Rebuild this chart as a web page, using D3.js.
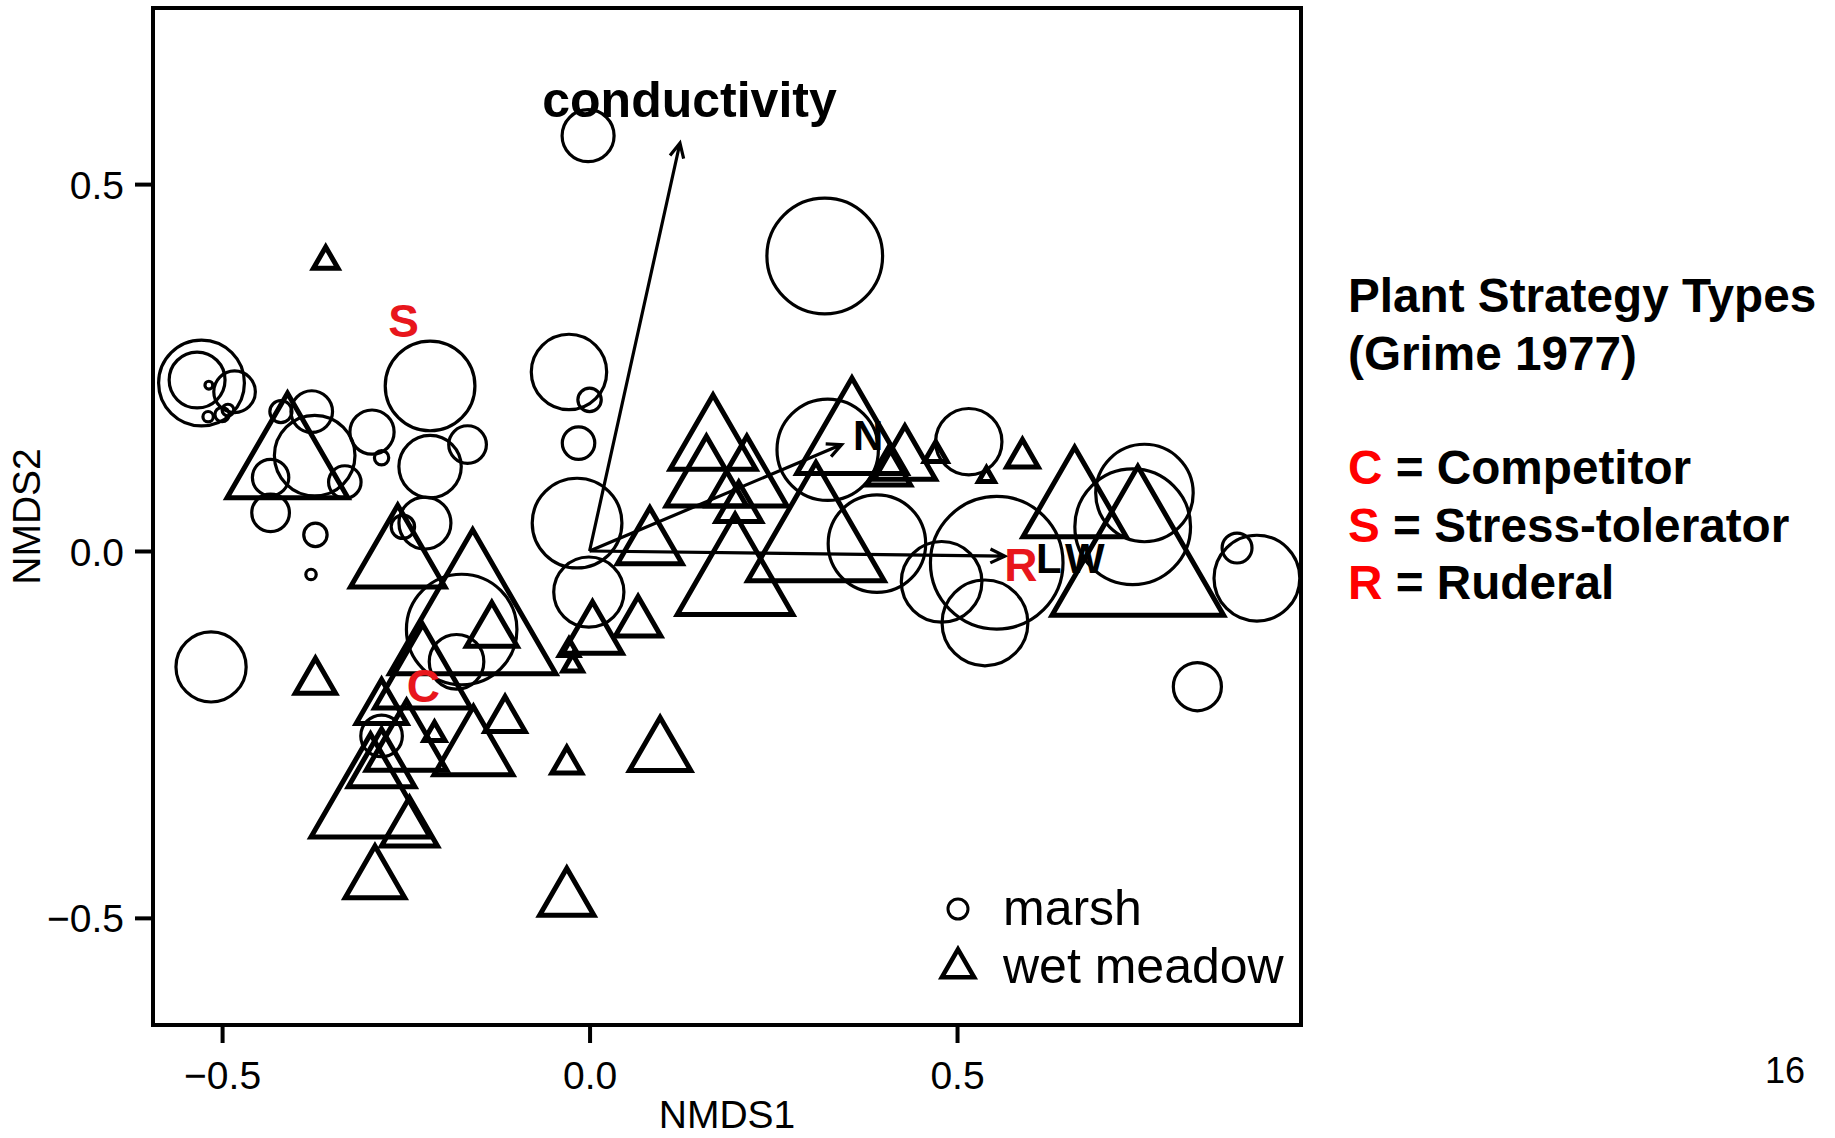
<!DOCTYPE html>
<html>
<head>
<meta charset="utf-8">
<script src="https://cdn.jsdelivr.net/npm/d3@7"></script>
<style>
  body { margin: 0; background: #fff; }
  text { font-family: "Liberation Sans", Arial, sans-serif; }
</style>
</head>
<body>
<div id="chart"></div>
<script>
// site scores, marsh plots (NMDS1, NMDS2, relative symbol size)
var marshX = [-0.528, -0.534, -0.483, -0.518, -0.519, -0.500, -0.492, -0.378, -0.374, -0.434, -0.420,
    -0.333, -0.296, -0.283, -0.217, -0.166, -0.217, -0.434, -0.373, -0.379, -0.224, -0.254, -0.515,
    -0.174, -0.181, -0.283, -0.002, -0.028, 0.000, -0.015, -0.017, -0.001, 0.320, 0.324, 0.391,
    0.516, 0.479, 0.554, 0.538, 0.755, 0.739, 0.908, 0.881, 0.827];
var marshY = [0.229, 0.233, 0.217, 0.226, 0.183, 0.186, 0.192, 0.190, 0.130, 0.100, 0.190,
    0.094, 0.162, 0.127, 0.225, 0.145, 0.115, 0.052, 0.022, -0.032, 0.038, 0.033, -0.158,
    -0.107, -0.151, -0.252, 0.566, 0.244, 0.206, 0.147, 0.038, -0.056, 0.402, 0.138, 0.010,
    0.149, -0.042, -0.016, -0.098, 0.079, 0.033, -0.037, 0.004, -0.185];
var marshSize = [6.6, 4.3, 3.2, 0.6, 0.8, 1.1, 0.9, 3.2, 6.2, 2.8, 1.7,
    2.5, 3.4, 1.1, 6.9, 2.9, 4.8, 2.9, 1.8, 0.8, 4.0, 1.8, 5.4,
    8.5, 4.2, 3.2, 4.0, 5.8, 1.8, 2.5, 6.9, 5.4, 8.9, 7.8, 7.5,
    5.1, 6.2, 10.2, 6.6, 7.5, 8.9, 6.6, 2.3, 3.7];

// site scores, wet meadow plots
var meadowX = [-0.359, -0.411, -0.261, -0.159, -0.133, -0.373, -0.283, -0.115, -0.211, -0.158, -0.249,
    -0.283, -0.298, -0.245, -0.292, -0.028, -0.023, -0.031, 0.096, -0.031, 0.004, 0.066, 0.082,
    0.168, 0.159, 0.203, 0.198, 0.308, 0.357, 0.429, 0.589, 0.540, 0.660, 0.746, -0.227, 0.214,
    0.407, 0.471];
var meadowY = [0.395, 0.120, -0.012, -0.102, -0.110, -0.178, -0.215, -0.230, -0.250, -0.274, -0.267,
    -0.295, -0.343, -0.380, -0.449, -0.135, -0.156, -0.291, -0.275, -0.475, -0.116, -0.098, 0.008,
    0.145, 0.093, 0.058, -0.041, 0.013, 0.149, 0.122, 0.127, 0.101, 0.060, -0.020, -0.176, 0.093,
    0.107, 0.131];
var meadowSize = [1.4, 6.9, 5.4, 9.5, 2.9, 2.3, 2.9, 2.3, 1.2, 4.5, 4.6,
    3.8, 6.8, 3.2, 3.4, 1.1, 1.1, 1.7, 3.5, 3.1, 3.4, 2.6, 3.7,
    4.9, 4.6, 2.6, 6.6, 7.8, 6.3, 3.5, 1.8, 0.9, 5.9, 9.8, 5.5, 4.6,
    2.5, 1.3];

// fitted environmental vectors
var vecNames = ["conductivity", "N", "L"];
var vecX = [0.123, 0.343, 0.565];
var vecY = [0.556, 0.145, -0.007];
var labNames = ["conductivity", "N", "L", "W"];
var labX = [0.136, 0.379, 0.625, 0.674];
var labY = [0.592, 0.138, -0.030, -0.030];

// CSR strategy letters added on top
var csrNames = ["S", "C", "R"];
var csrX = [-0.253, -0.226, 0.587];
var csrY = [0.292, -0.206, -0.041];

var xTicks = [-0.5, 0.0, 0.5];
var yTicks = [-0.5, 0.0, 0.5];

var legendNames = ["marsh", "wet meadow"];
var sideTitle = ["Plant Strategy Types", "(Grime 1977)"];
var sideKeys = ["C", "S", "R"];
var sideDesc = [" = Competitor", " = Stress-tolerator", " = Ruderal"];

var W = 1835, H = 1138;
var box = {left: 153, right: 1301, top: 8, bottom: 1025};

var svg = d3.select("#chart")
    .append("svg")
    .attr("width", W)
    .attr("height", H);

var x = d3.scaleLinear()
    .domain([-0.594, 0.968])
    .range([box.left, box.right]);
var y = d3.scaleLinear()
    .domain([-0.646, 0.740])
    .range([box.bottom, box.top]);
var size = d3.scaleLinear()
    .domain([0, 10])
    .range([0, 65]);

var red = "#e8161c";

// clip the points to the plot box
svg.append("clipPath").attr("id", "clip")
    .append("rect")
    .attr("x", box.left).attr("y", box.top)
    .attr("width", box.right - box.left).attr("height", box.bottom - box.top);

var plot = svg.append("g").attr("clip-path", "url(#clip)");

var marsh = marshX.map(function (d, i) { return {x: d, y: marshY[i], s: marshSize[i]}; });
var meadow = meadowX.map(function (d, i) { return {x: d, y: meadowY[i], s: meadowSize[i]}; });

plot.selectAll(".marsh")
    .data(marsh)
    .enter()
    .append("circle")
    .attr("class", "marsh")
    .attr("cx", function (d) { return x(d.x); })
    .attr("cy", function (d) { return y(d.y); })
    .attr("r", function (d) { return size(d.s); })
    .style("fill", "none")
    .style("stroke", "#000")
    .style("stroke-width", 3.2);

var tri = d3.symbol().type(d3.symbolTriangle);
plot.selectAll(".meadow")
    .data(meadow)
    .enter()
    .append("path")
    .attr("class", "meadow")
    .attr("transform", function (d) { return "translate(" + x(d.x) + "," + y(d.y) + ")"; })
    .attr("d", function (d) { var r = size(d.s); return tri.size(Math.PI * r * r)(); })
    .style("fill", "none")
    .style("stroke", "#000")
    .style("stroke-width", 5)
    .style("stroke-linejoin", "miter");

// arrows from the origin
vecNames.forEach(function (n, i) {
    var x0 = x(0), y0 = y(0), x1 = x(vecX[i]), y1 = y(vecY[i]);
    var a = Math.atan2(y1 - y0, x1 - x0), h = 16;
    var p = d3.path();
    p.moveTo(x0, y0); p.lineTo(x1, y1);
    p.moveTo(x1 - h * Math.cos(a - 0.45), y1 - h * Math.sin(a - 0.45));
    p.lineTo(x1, y1);
    p.lineTo(x1 - h * Math.cos(a + 0.45), y1 - h * Math.sin(a + 0.45));
    plot.append("path")
        .attr("d", p.toString())
        .style("fill", "none")
        .style("stroke", "#000")
        .style("stroke-width", 3.2);
});

labNames.forEach(function (n, i) {
    svg.append("text")
        .attr("x", x(labX[i]))
        .attr("y", y(labY[i]))
        .attr("text-anchor", "middle")
        .style("font-size", i == 0 ? "50px" : "42px")
        .style("font-weight", "bold")
        .text(n);
});

csrNames.forEach(function (n, i) {
    svg.append("text")
        .attr("x", x(csrX[i]))
        .attr("y", y(csrY[i]))
        .attr("text-anchor", "middle")
        .style("font-size", "46px")
        .style("font-weight", "bold")
        .style("fill", red)
        .text(n);
});

// box
svg.append("rect")
    .attr("x", box.left).attr("y", box.top)
    .attr("width", box.right - box.left).attr("height", box.bottom - box.top)
    .style("fill", "none")
    .style("stroke", "#000")
    .style("stroke-width", 4);

// axes
var fmt = function (d) { return d3.format(".1f")(d).replace("-", "\u2212"); };
var xAxis = svg.append("g")
    .attr("transform", "translate(0," + (box.bottom + 2) + ")")
    .call(d3.axisBottom(x).tickValues(xTicks).tickSize(16).tickPadding(18).tickFormat(fmt));
var yAxis = svg.append("g")
    .attr("transform", "translate(" + (box.left - 2) + ",0)")
    .call(d3.axisLeft(y).tickValues(yTicks).tickSize(16).tickPadding(11).tickFormat(fmt));
[xAxis, yAxis].forEach(function (g) {
    g.select(".domain").remove();
    g.selectAll(".tick line").style("stroke", "#000").style("stroke-width", 4);
    g.selectAll(".tick text")
        .style("font-family", "Liberation Sans, Arial, sans-serif")
        .style("font-size", "39px")
        .style("fill", "#000");
});
xAxis.selectAll(".tick text").attr("dy", "0.71em");
yAxis.selectAll(".tick text").attr("dy", "0.36em");

svg.append("text")
    .attr("x", (box.left + box.right) / 2)
    .attr("y", 1128)
    .attr("text-anchor", "middle")
    .style("font-size", "39px")
    .text("NMDS1");
svg.append("text")
    .attr("transform", "translate(40," + (box.top + box.bottom) / 2 + ") rotate(-90)")
    .attr("text-anchor", "middle")
    .style("font-size", "39px")
    .text("NMDS2");

// legend
var legend = svg.append("g").attr("transform", "translate(958,0)");
legend.append("circle")
    .attr("cx", 0).attr("cy", 909).attr("r", 10)
    .style("fill", "none").style("stroke", "#000").style("stroke-width", 3);
legend.append("path")
    .attr("transform", "translate(0,968)")
    .attr("d", tri.size(Math.PI * 12 * 12)())
    .style("fill", "none").style("stroke", "#000").style("stroke-width", 4.5);
legend.selectAll(".lt")
    .data(legendNames)
    .enter()
    .append("text")
    .attr("x", 45)
    .attr("y", function (d, i) { return 925 + i * 58; })
    .style("font-size", "50px")
    .text(function (d) { return d; });

// side panel text
var side = svg.append("g").attr("transform", "translate(1348,0)");
side.selectAll(".title")
    .data(sideTitle)
    .enter()
    .append("text")
    .attr("y", function (d, i) { return 312 + i * 57.5; })
    .style("font-size", "47.7px")
    .style("font-weight", "bold")
    .text(function (d) { return d; });
sideKeys.forEach(function (k, i) {
    var t = side.append("text")
        .attr("y", 484 + i * 57.5)
        .style("font-size", "47.7px")
        .style("font-weight", "bold");
    t.append("tspan").style("fill", "#ff0000").text(k);
    t.append("tspan").text(sideDesc[i]);
});

svg.append("text")
    .attr("x", 1765)
    .attr("y", 1083)
    .style("font-size", "36px")
    .text("16");
</script>
</body>
</html>
